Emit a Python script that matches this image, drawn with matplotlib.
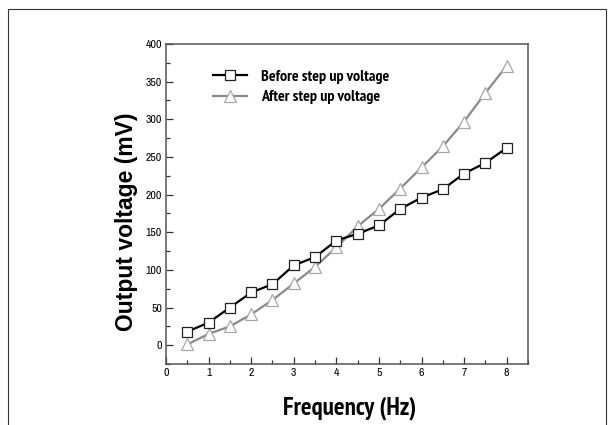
import matplotlib
matplotlib.use("Agg")
import matplotlib.pyplot as plt
from matplotlib.patches import Rectangle
from matplotlib.ticker import MultipleLocator

# -------------------------
# Data
# -------------------------
freq = [0.5, 1, 1.5, 2, 2.5, 3, 3.5, 4, 4.5, 5, 5.5, 6, 6.5, 7, 7.5, 8]
before_v = [18, 30, 50, 70, 81, 106, 117, 139, 148, 159, 181, 196, 207, 228, 242, 262]
after_v = [1, 15, 25, 41, 60, 82, 104, 130, 158, 181, 208, 236, 264, 297, 335, 371]
labels = ["Before step up voltage", "After step up voltage"]

NARROW = ["Archivo Narrow", "Liberation Sans", "DejaVu Sans"]
NARROW_BOLD = ["PT Sans Narrow", "Liberation Sans", "DejaVu Sans"]
WIDE = ["Liberation Sans", "DejaVu Sans"]

fig = plt.figure(figsize=(6.15, 4.25), dpi=100)
ax = fig.add_axes([0.270, 0.1435, 0.5885, 0.753])

# thin frame round the picture (its bottom edge is cut off)
fig.patches.append(Rectangle((8 / 615, -0.05), 598 / 615, 1.05 - 9 / 425,
                             transform=fig.transFigure, fill=False,
                             edgecolor="#333333", linewidth=0.8))

ax.plot(freq, before_v, color="black", lw=1.6, marker="s", ms=7,
        mfc="white", mec="#222222", mew=0.9, label=labels[0], zorder=3)
ax.plot(freq, after_v, color="#8a8a8a", lw=1.6, marker="^", ms=8.5,
        mfc="white", mec="#a8a8a8", mew=0.9, label=labels[1], zorder=2)

ax.set_xlim(0, 8.5)
ax.set_ylim(-25, 400)
ax.xaxis.set_major_locator(MultipleLocator(1))
ax.xaxis.set_minor_locator(MultipleLocator(0.5))
ax.yaxis.set_major_locator(MultipleLocator(50))
ax.yaxis.set_minor_locator(MultipleLocator(25))
ax.tick_params(which="both", direction="in", top=False, right=False,
               color="#333333", width=0.9)
ax.tick_params(which="major", length=5, labelsize=8.5, pad=3)
ax.tick_params(which="minor", length=3)
for lab in ax.get_xticklabels() + ax.get_yticklabels():
    lab.set_family(NARROW)

for s in ax.spines.values():
    s.set_color("#555555")
    s.set_linewidth(1.1)

ax.set_xlabel("Frequency (Hz)", family=NARROW_BOLD, fontweight="bold", fontsize=18)
ax.xaxis.set_label_coords(0.506, -0.10)
ax.set_ylabel("Output voltage (mV)", family=WIDE, fontweight="bold", fontsize=16.5)
ax.yaxis.set_label_coords(-0.078, 0.445)

leg = ax.legend(loc="upper left", bbox_to_anchor=(0.09, 0.965), frameon=False,
                prop={"family": NARROW_BOLD, "weight": "bold", "size": 11.5},
                handlelength=2.1, handletextpad=0.9, labelspacing=0.4)

fig.savefig("out.png", dpi=100)
